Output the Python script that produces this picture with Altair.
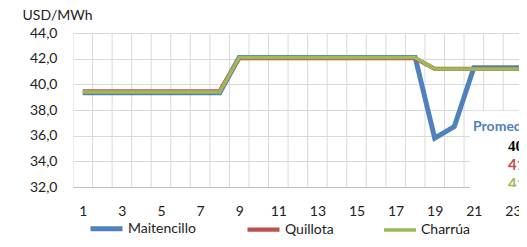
import altair as alt
import pandas as pd

hours = list(range(1, 25))
series_names = ["Maitencillo", "Quillota", "Charrúa"]
series_colors = ["#4F81BD", "#C0504D", "#9BBB59"]
series_widths = [5, 3.5, 3.5]

maitencillo = [39.35, 39.35, 39.35, 39.35, 39.35, 39.35, 39.35, 39.35,
               42.1, 42.1, 42.1, 42.1, 42.1, 42.1, 42.1, 42.1, 42.1, 42.1,
               35.8, 36.7, 41.3, 41.3, 41.3, 41.3]
quillota = [39.45, 39.45, 39.45, 39.45, 39.45, 39.45, 39.45, 39.45,
            42.05, 42.05, 42.05, 42.05, 42.05, 42.05, 42.05, 42.05, 42.05, 42.05,
            41.2, 41.2, 41.2, 41.2, 41.2, 41.2]
charrua = [39.4, 39.4, 39.4, 39.4, 39.4, 39.4, 39.4, 39.4,
           42.1, 42.1, 42.1, 42.1, 42.1, 42.1, 42.1, 42.1, 42.1, 42.1,
           41.2, 41.2, 41.2, 41.2, 41.2, 41.2]

y_ticks = [32, 34, 36, 38, 40, 42, 44]
x_label_hours = [1, 3, 5, 7, 9, 11, 13, 15, 17, 19, 21, 23]
x_grid = [h - 0.5 for h in hours] + [24.5]

FONT = "Lato"
TXT = "#222222"

rows = []
for name, vals in zip(series_names, [maitencillo, quillota, charrua]):
    for h, v in zip(hours, vals):
        rows.append({"hora": h, "valor": v, "serie": name})
df = pd.DataFrame(rows)

# visible part of the category axis (the reference is cropped on the right)
x_scale = alt.Scale(domain=[0.5, 23.31], nice=False, zero=False)
y_scale = alt.Scale(domain=[32, 44], nice=False, zero=False)
color_scale = alt.Scale(domain=series_names, range=series_colors)
width_scale = alt.Scale(domain=series_names, range=series_widths)

x_axis = alt.Axis(
    values=x_label_hours,
    grid=False,
    ticks=False,
    labelOverlap=False,
    labelBound=False,
    labelPadding=17,
    labelFont=FONT,
    labelFontSize=14,
    labelColor=TXT,
    domainColor="#bfbfbf",
    title=None,
)
y_axis = alt.Axis(
    values=y_ticks,
    labelExpr="replace(format(datum.value, '.1f'), '.', ',')",
    gridColor="#d9d9d9",
    ticks=False,
    domain=False,
    labelPadding=16,
    labelFont=FONT,
    labelFontSize=14,
    labelColor=TXT,
    title="USD/MWh",
    titleAngle=0,
    titleAlign="left",
    titleBaseline="middle",
    titleX=-51,
    titleY=-18,
    titleFont=FONT,
    titleFontSize=14,
    titleFontWeight="normal",
    titleColor=TXT,
)

X = lambda f: alt.X(f, scale=x_scale, axis=x_axis)
Y = lambda f: alt.Y(f, scale=y_scale, axis=y_axis)

vgrid = alt.Chart(pd.DataFrame({"g": x_grid})).mark_rule(
    color="#d9d9d9", strokeWidth=1, clip=True).encode(x=X("g:Q"))

legend = alt.Legend(
    orient="none", legendX=15, legendY=177, direction="horizontal",
    title=None, symbolType="stroke", symbolSize=1024,
    symbolStrokeWidth=4.5, labelOffset=3, columnPadding=43,
    labelFont=FONT, labelFontSize=14, labelColor=TXT,
)

layers = []
for i, name in enumerate(series_names):
    sub = df[df["serie"] == name]
    layers.append(alt.Chart(sub).mark_line(strokeJoin="miter", clip=True).encode(
        x=X("hora:Q"),
        y=Y("valor:Q"),
        color=alt.Color("serie:N", scale=color_scale, legend=legend),
        strokeWidth=alt.StrokeWidth("serie:N", scale=width_scale, legend=None),
    ))

# Promedio annotation box
avgs = [sum(v) / len(v) for v in [maitencillo, quillota, charrua]]
avg_labels = [f"{a:.1f}".replace(".", ",") for a in avgs]

box = alt.Chart(pd.DataFrame({"x": [20.81], "x2": [26.0], "y": [37.95], "y2": [31.3]})).mark_rect(
    color="white").encode(x=X("x:Q"), x2="x2:Q", y=Y("y:Q"), y2="y2:Q")

title_txt = alt.Chart(pd.DataFrame({"x": [20.96], "y": [36.66], "t": ["Promedio"]})).mark_text(
    align="left", baseline="middle", font=FONT, fontSize=14, fontWeight="bold",
    color="#4F81BD", clip=True).encode(x=X("x:Q"), y=Y("y:Q"), text="t:N")

vals_df = pd.DataFrame({
    "x": [22.75, 22.75, 22.75],
    "y": [35.17, 33.69, 32.2],
    "t": avg_labels,
    "serie": series_names,
})
val_black = alt.Chart(vals_df.iloc[[0]]).mark_text(
    align="left", baseline="middle", font="Liberation Serif", fontSize=15, fontWeight="bold",
    color="#000000", clip=True).encode(x=X("x:Q"), y=Y("y:Q"), text="t:N")
val_col = alt.Chart(vals_df.iloc[[1, 2]]).mark_text(
    align="left", baseline="middle", font=FONT, fontSize=15, fontWeight="bold", clip=True).encode(
    x=X("x:Q"), y=Y("y:Q"), text="t:N",
    color=alt.Color("serie:N", scale=color_scale, legend=legend))

chart = alt.layer(vgrid, *layers, box, title_txt, val_black, val_col).properties(
    width=446, height=154,
    background="white",
    autosize=alt.AutoSizeParams(type="none"),
    padding={"left": 65, "top": 25, "right": 0, "bottom": 52},
).configure_view(stroke=None)

chart.save("out.html", embed_options={"renderer": "svg", "actions": False})
